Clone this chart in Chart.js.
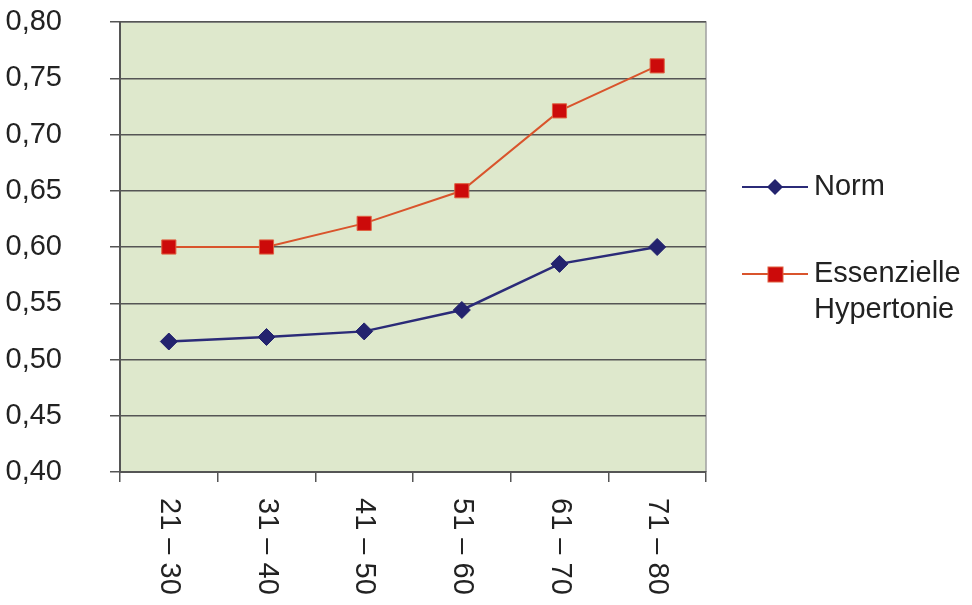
<!DOCTYPE html>
<html>
<head>
<meta charset="utf-8">
<script src="https://cdn.jsdelivr.net/npm/chart.js@4"></script>
<style>
  html, body { margin: 0; padding: 0; background: #fff; }
  #chart { display: block; }
</style>
</head>
<body>
<canvas id="chart" width="972" height="605"></canvas>
<script>
// Data
const ageGroups = ['21 – 30', '31 – 40', '41 – 50', '51 – 60', '61 – 70', '71 – 80'];
const normValues = [0.516, 0.520, 0.525, 0.544, 0.585, 0.600];
const hypertonieValues = [0.600, 0.600, 0.621, 0.650, 0.721, 0.761];
const yTickLabels = ['0,40', '0,45', '0,50', '0,55', '0,60', '0,65', '0,70', '0,75', '0,80'];
const seriesNames = ['Norm', ['Essenzielle', 'Hypertonie']];

const FONT = '"Liberation Sans", Arial, sans-serif';
const TEXT = '#222222';
const GRID = '#555555';

// plot background + right/top border
const plotBackground = {
    id: 'plotBackground',
    beforeDraw(chart) {
        const {ctx, chartArea: a} = chart;
        ctx.save();
        ctx.fillStyle = '#dee8cc';
        ctx.fillRect(a.left, a.top, a.right - a.left, a.bottom - a.top);
        ctx.strokeStyle = '#a0a0a0';
        ctx.lineWidth = 1.5;
        ctx.beginPath();
        ctx.moveTo(a.left, a.top);
        ctx.lineTo(a.right, a.top);
        ctx.lineTo(a.right, a.bottom);
        ctx.stroke();
        ctx.restore();
    }
};

// x labels read top to bottom, so draw them here
const verticalLabels = {
    id: 'verticalLabels',
    afterDraw(chart) {
        const {ctx, chartArea} = chart;
        const x = chart.scales.x;
        ctx.save();
        ctx.font = '29px ' + FONT;
        ctx.fillStyle = TEXT;
        ctx.textAlign = 'left';
        ctx.textBaseline = 'middle';
        ageGroups.forEach((label, i) => {
            ctx.save();
            ctx.translate(x.getPixelForValue(i), chartArea.bottom + 26);
            ctx.rotate(Math.PI / 2);
            ctx.fillText(label, 0, 0);
            ctx.restore();
        });
        ctx.restore();
    }
};

// legend with wrapped second label
const sideLegend = {
    id: 'sideLegend',
    afterDraw(chart) {
        const {ctx} = chart;
        const rows = [187, 274];
        ctx.save();
        ctx.font = '29px ' + FONT;
        ctx.fillStyle = TEXT;
        ctx.textBaseline = 'middle';
        chart.data.datasets.forEach((ds, i) => {
            const y = rows[i];
            ctx.strokeStyle = ds.borderColor;
            ctx.lineWidth = 2;
            ctx.beginPath();
            ctx.moveTo(742, y);
            ctx.lineTo(808, y);
            ctx.stroke();
            ctx.fillStyle = ds.pointBackgroundColor;
            ctx.strokeStyle = ds.pointBorderColor;
            ctx.lineWidth = 1;
            if (ds.pointStyle === 'rectRot') {
                ctx.beginPath();
                ctx.moveTo(775, y - 8);
                ctx.lineTo(783, y);
                ctx.lineTo(775, y + 8);
                ctx.lineTo(767, y);
                ctx.closePath();
                ctx.fill();
            } else {
                ctx.fillRect(768, y - 7, 15, 15);
                ctx.strokeRect(768, y - 7, 15, 15);
            }
            ctx.fillStyle = TEXT;
            const lines = [].concat(seriesNames[i]);
            lines.forEach((t, j) => ctx.fillText(t, 814, y + j * 36));
        });
        ctx.restore();
    }
};

new Chart(document.getElementById('chart'), {
    type: 'line',
    data: {
        labels: ageGroups,
        datasets: [{
            label: 'Norm',
            data: normValues,
            borderColor: '#2b2b78',
            borderWidth: 2.5,
            pointStyle: 'rectRot',
            pointRadius: 8.5,
            pointHoverRadius: 8.5,
            pointBackgroundColor: '#23236e',
            pointBorderColor: '#23236e',
            pointBorderWidth: 1,
            tension: 0
        }, {
            label: 'Essenzielle Hypertonie',
            data: hypertonieValues,
            borderColor: '#d9542c',
            borderWidth: 2,
            pointStyle: 'rect',
            pointRadius: 10,
            pointHoverRadius: 10,
            pointBackgroundColor: '#cc0a0a',
            pointBorderColor: '#e06040',
            pointBorderWidth: 1,
            tension: 0
        }]
    },
    options: {
        responsive: false,
        animation: false,
        layout: { padding: { top: 22, right: 266, left: 0, bottom: 0 } },
        plugins: {
            legend: { display: false },
            tooltip: { enabled: false }
        },
        scales: {
            x: {
                offset: true,
                afterFit: s => { s.height = 133; },
                grid: { offset: true, drawOnChartArea: false, color: GRID, lineWidth: 1.5, tickLength: 10 },
                border: { color: GRID, width: 2 },
                ticks: { display: false }
            },
            y: {
                min: 0.4,
                max: 0.8,
                afterFit: s => { s.width = 120; s.paddingTop = 0; s.paddingBottom = 0; },
                grid: { color: GRID, lineWidth: 1.5, tickLength: 10 },
                border: { color: GRID, width: 2 },
                ticks: {
                    stepSize: 0.05,
                    padding: 48,
                    color: TEXT,
                    font: { family: FONT, size: 29 },
                    callback: (v, i) => yTickLabels[i]
                }
            }
        }
    },
    plugins: [plotBackground, verticalLabels, sideLegend]
});
</script>
</body>
</html>
